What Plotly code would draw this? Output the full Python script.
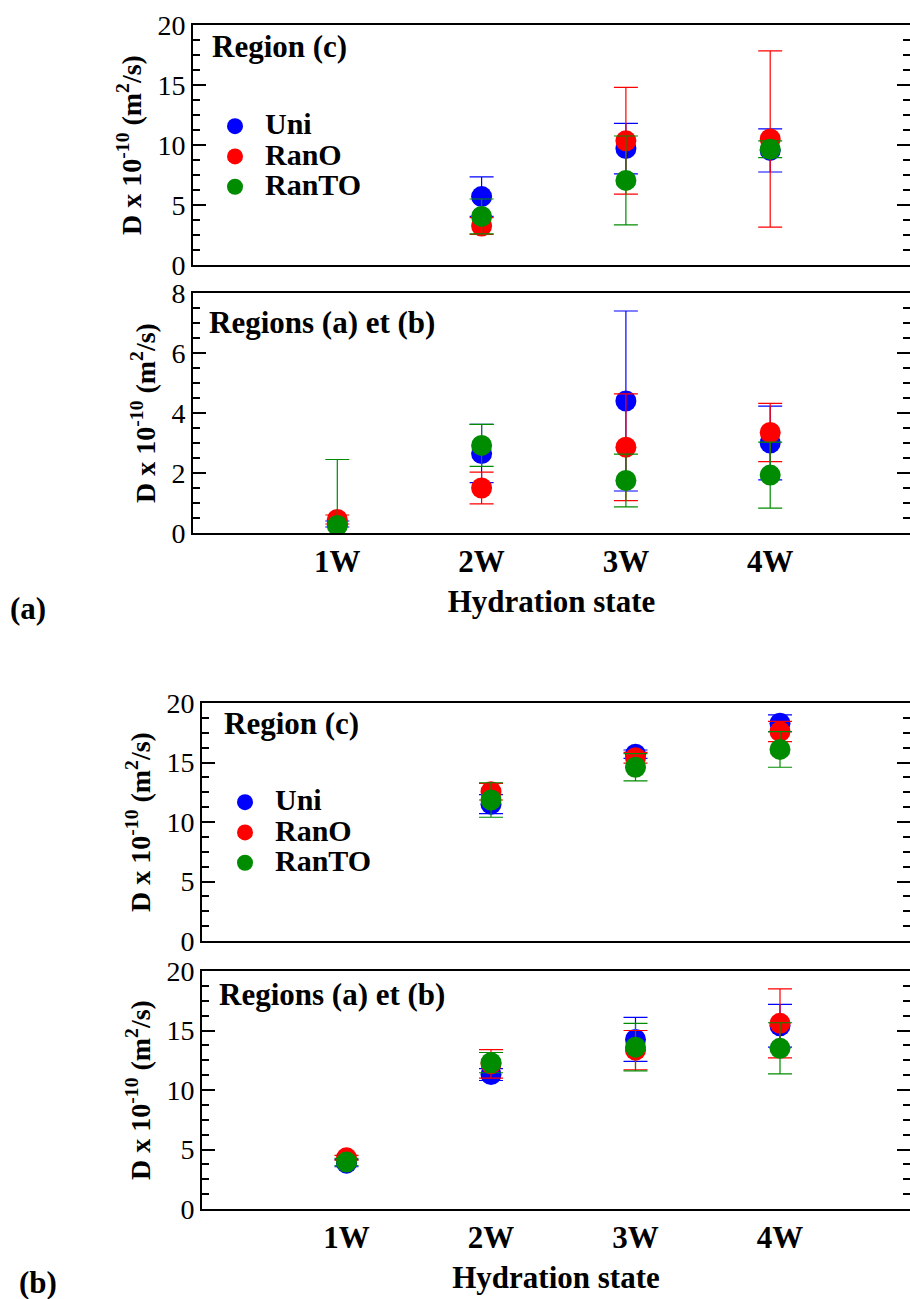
import plotly.graph_objects as go

# ---------------- data ----------------
categories = ["1W", "2W", "3W", "4W"]
x_pos = [1, 2, 3, 4]
series_names = ["Uni", "RanO", "RanTO"]
series_colors = ["#0000ff", "#ff0000", "#008c00"]

# Figure (a) - Region (c)
a_c_uni = [None, 5.7, 9.7, 9.55]
a_c_uni_err = [None, 1.65, 2.1, 1.8]
a_c_rano = [None, 3.25, 10.35, 10.5]
a_c_rano_err = [None, 0.7, 4.45, 7.35]
a_c_ranto = [None, 4.05, 7.05, 9.65]
a_c_ranto_err = [None, 1.45, 3.7, 0.7]

# Figure (a) - Regions (a) et (b)
a_ab_uni = [0.3, 2.65, 4.4, 3.0]
a_ab_uni_err = [0.1, 0.97, 3.0, 1.23]
a_ab_rano = [0.45, 1.5, 2.86, 3.35]
a_ab_rano_err = [0.15, 0.53, 1.78, 0.97]
a_ab_ranto = [0.25, 2.92, 1.75, 1.93]
a_ab_ranto_err = [2.2, 0.7, 0.88, 1.1]

# Figure (b) - Region (c)
b_c_uni = [None, 11.5, 15.7, 18.3]
b_c_uni_err = [None, 0.8, 0.35, 0.7]
b_c_rano = [None, 12.55, 15.4, 17.6]
b_c_rano_err = [None, 0.7, 0.45, 0.85]
b_c_ranto = [None, 11.85, 14.6, 16.1]
b_c_ranto_err = [None, 1.45, 1.15, 1.5]

# Figure (b) - Regions (a) et (b)
b_ab_uni = [3.85, 11.3, 14.25, 15.4]
b_ab_uni_err = [0.3, 0.5, 1.85, 1.8]
b_ab_rano = [4.3, 12.2, 13.35, 15.6]
b_ab_rano_err = [0.2, 1.2, 1.65, 2.9]
b_ab_ranto = [3.95, 12.3, 13.6, 13.5]
b_ab_ranto_err = [0.3, 0.85, 2.0, 2.15]

panel_titles = ["Region (c)", "Regions (a) et (b)", "Region (c)", "Regions (a) et (b)"]
x_title = "Hydration state"
y_title = "D x 10<sup>-10</sup> (m<sup>2</sup>/s)"
fig_labels = ["(a)", "(b)"]

# ---------------- layout helpers ----------------
W, H = 910, 1299
SERIF = "Liberation Serif, Times New Roman, Times, serif"


def px_x(p):
    return p / W


def px_y(p):
    return 1 - p / H


panels = [
    ("x", "y", [a_c_uni, a_c_rano, a_c_ranto], [a_c_uni_err, a_c_rano_err, a_c_ranto_err], "legend", True),
    ("x2", "y2", [a_ab_uni, a_ab_rano, a_ab_ranto], [a_ab_uni_err, a_ab_rano_err, a_ab_ranto_err], "legend", False),
    ("x3", "y3", [b_c_uni, b_c_rano, b_c_ranto], [b_c_uni_err, b_c_rano_err, b_c_ranto_err], "legend2", True),
    ("x4", "y4", [b_ab_uni, b_ab_rano, b_ab_ranto], [b_ab_uni_err, b_ab_rano_err, b_ab_ranto_err], "legend2", False),
]

fig = go.Figure()
for xa, ya, vals, errs, leg, showleg in panels:
    for name, color, v, e in zip(series_names, series_colors, vals, errs):
        fig.add_trace(go.Scatter(
            x=x_pos, y=v, mode="markers", xaxis=xa, yaxis=ya,
            name='<span style="font-size:30px">' + name + "</span>",
            legend=leg, showlegend=showleg,
            marker=dict(color=color, size=21, line=dict(width=0)),
            error_y=dict(type="data", array=e, visible=True, color=color,
                         thickness=1.2, width=12),
        ))

tickfont = dict(family=SERIF, size=28, color="black")
boldfont = dict(family=SERIF, size=31, color="black", weight="bold")
ytitlefont = dict(family=SERIF, size=28, color="black", weight="bold")

xa_dom = [px_x(193), 1.0]
xb_dom = [px_x(202), 1.0]
xa_rng = [0, (W - 193) / 144.3]
xb_rng = [0, (W - 202) / 144.5]


def xaxis(dom, rng, anchor, show_labels):
    d = dict(domain=dom, range=rng, anchor=anchor, showgrid=False, zeroline=False,
             showline=True, linecolor="black", linewidth=2, mirror=True,
             ticks="", tickvals=x_pos, ticktext=categories,
             showticklabels=show_labels, tickfont=boldfont, automargin=False)
    if show_labels:
        d["title"] = dict(text=x_title, font=boldfont, standoff=12)
    return d


def yaxis(dom, rng, dtick, minor, anchor):
    return dict(domain=dom, range=rng, anchor=anchor, showgrid=False, zeroline=False,
                showline=True, linecolor="black", linewidth=2, mirror="allticks",
                ticks="inside", ticklen=13, tickwidth=2, tickcolor="black",
                dtick=dtick, tick0=0, tickfont=tickfont,
                minor=dict(ticks="inside", ticklen=7, tickwidth=1.5, tickcolor="black",
                           dtick=minor, tick0=0, showgrid=False),
                title=dict(text=y_title, font=ytitlefont, standoff=8),
                automargin=False)


layout = dict(
    width=W, height=H,
    margin=dict(l=0, r=0, t=0, b=0),
    paper_bgcolor="white", plot_bgcolor="white",
    xaxis=xaxis(xa_dom, xa_rng, "y", False),
    xaxis2=xaxis(xa_dom, xa_rng, "y2", True),
    xaxis3=xaxis(xb_dom, xb_rng, "y3", False),
    xaxis4=xaxis(xb_dom, xb_rng, "y4", True),
    yaxis=yaxis([px_y(265), px_y(25)], [0, 20], 5, 1.25, "x"),
    yaxis2=yaxis([px_y(533), px_y(293)], [0, 8], 2, 0.5, "x2"),
    yaxis3=yaxis([px_y(941), px_y(703)], [0, 20], 5, 1.25, "x3"),
    yaxis4=yaxis([px_y(1209), px_y(971)], [0, 20], 5, 1.25, "x4"),
    legend=dict(x=px_x(205), y=px_y(106), xanchor="left", yanchor="top",
                font=dict(family=SERIF, size=21, color="black", weight="bold"),
                bgcolor="rgba(0,0,0,0)", borderwidth=0, itemwidth=50,
                tracegroupgap=0),
    legend2=dict(x=px_x(215), y=px_y(782), xanchor="left", yanchor="top",
                 font=dict(family=SERIF, size=21, color="black", weight="bold"),
                 bgcolor="rgba(0,0,0,0)", borderwidth=0, itemwidth=50,
                 tracegroupgap=0),
    showlegend=True,
)
fig.update_layout(**layout)

# panel labels
label_pos = [(210, 46), (207, 323), (222, 723), (217, 994)]
for txt, (lx, ly) in zip(panel_titles, label_pos):
    fig.add_annotation(text=txt, x=px_x(lx), y=px_y(ly), xref="paper", yref="paper",
                       xanchor="left", yanchor="middle", showarrow=False, font=boldfont)

for txt, (lx, ly) in zip(fig_labels, [(28, 608), (38, 1282)]):
    fig.add_annotation(text=txt, x=px_x(lx), y=px_y(ly), xref="paper", yref="paper",
                       xanchor="center", yanchor="middle", showarrow=False, font=boldfont)

fig.write_html("out.html")
